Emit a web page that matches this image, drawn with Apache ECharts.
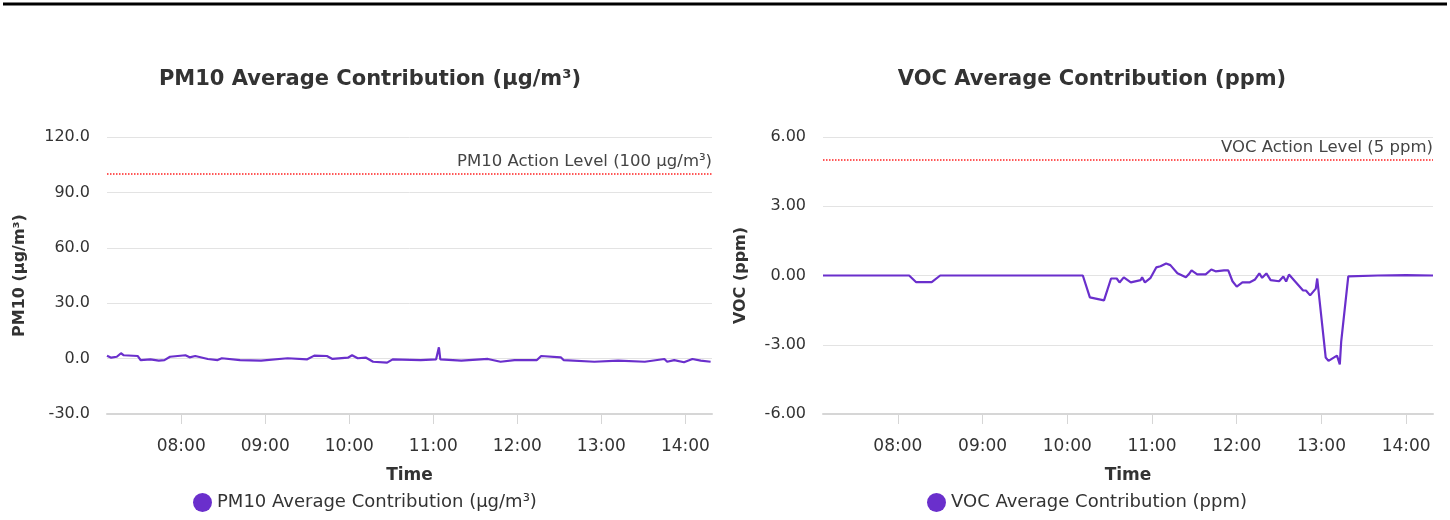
<!DOCTYPE html>
<html>
<head>
<meta charset="utf-8">
<script src="https://cdn.jsdelivr.net/npm/echarts@6/dist/echarts.min.js"></script>
<style>
html,body{margin:0;padding:0;background:#fff;}
#c{width:1450px;height:520px;}
</style>
</head>
<body>
<div id="c"></div>
<script>
const DAY = '2024-01-01 ';
const startTime = '07:07';
const endTime = '14:19';

const pmTimes = ['07:07','07:10','07:14','07:17','07:19','07:29','07:31','07:38','07:44','07:48','07:52','08:03','08:06','08:10','08:19','08:26','08:29','08:42','08:57','09:16','09:30','09:35','09:44','09:48','09:59','10:02','10:06','10:12','10:17','10:27','10:31','10:51','11:02','11:04','11:05','11:20','11:39','11:48','11:58','12:14','12:17','12:31','12:33','12:55','13:12','13:31','13:45','13:47','13:52','13:59','14:05','14:11','14:18'];
const pmValues = [1.6,0.5,1.0,2.9,1.8,1.4,-0.8,-0.4,-1.1,-0.8,1.0,1.8,0.7,1.4,-0.2,-0.8,0.2,-0.8,-1.1,0.2,-0.4,1.6,1.4,-0.2,0.5,1.8,0.2,0.5,-1.7,-2.2,-0.4,-0.8,-0.4,6.1,-0.4,-1.1,-0.2,-1.7,-0.8,-0.8,1.4,0.7,-0.8,-1.7,-1.1,-1.7,-0.2,-1.7,-0.8,-2.0,-0.2,-1.1,-1.7];

const vocTimes = ['07:07','08:08','08:13','08:24','08:30','10:11','10:16','10:26','10:31','10:35','10:37','10:40','10:45','10:52','10:53','10:55','10:59','11:03','11:06','11:10','11:13','11:18','11:24','11:26','11:28','11:32','11:38','11:42','11:45','11:51','11:54','11:57','12:00','12:04','12:09','12:13','12:16','12:18','12:21','12:24','12:30','12:33','12:35','12:37','12:42','12:47','12:49','12:52','12:56','12:57','13:03','13:05','13:11','13:13','13:14','13:19','13:40','14:00','14:19'];
const vocValues = [0.0,0.0,-0.29,-0.29,0.0,0.0,-0.95,-1.08,-0.13,-0.13,-0.3,-0.08,-0.3,-0.2,-0.08,-0.3,-0.1,0.35,0.4,0.52,0.45,0.1,-0.08,0.05,0.22,0.05,0.05,0.26,0.18,0.22,0.22,-0.25,-0.48,-0.3,-0.3,-0.17,0.09,-0.1,0.09,-0.2,-0.25,-0.04,-0.26,0.04,-0.3,-0.65,-0.65,-0.86,-0.57,-0.13,-3.55,-3.7,-3.47,-3.85,-2.85,-0.04,0.0,0.02,0.0];

const pmTicks = {min: -30, max: 120, interval: 30, digits: 1};
const vocTicks = {min: -6, max: 6, interval: 3, digits: 2};

const pmTitle = 'PM10 Average Contribution (µg/m³)';
const vocTitle = 'VOC Average Contribution (ppm)';
const pmAxisName = 'PM10 (µg/m³)';
const vocAxisName = 'VOC (ppm)';
const pmAction = 100, pmActionLabel = 'PM10 Action Level (100 µg/m³)';
const vocAction = 5, vocActionLabel = 'VOC Action Level (5 ppm)';

const FONT = 'DejaVu Sans';
const LINE_COLOR = '#6a2fcc';
const ts = t => new Date(DAY + t + ':00').getTime();
const toData = (times, vals) => times.map((t, i) => [ts(t), vals[i]]);

function xAxis(gi) {
  return {
    type: 'time', gridIndex: gi,
    min: ts(startTime), max: ts(endTime),
    minInterval: 3600000, maxInterval: 3600000,
    name: 'Time', nameLocation: 'middle', nameGap: 53,
    nameTextStyle: {fontFamily: FONT, fontWeight: 'bold', fontSize: 17, color: '#333'},
    axisLine: {show: true, onZero: false, lineStyle: {color: '#d6d6d6', width: 2}},
    axisTick: {show: true, length: 10, lineStyle: {color: '#d6d6d6'}},
    axisLabel: {formatter: '{HH}:{mm}', fontFamily: FONT, fontSize: 17, color: '#333', margin: 24, showMinLabel: false, showMaxLabel: false},
    splitLine: {show: false}
  };
}
function yAxis(gi, tk, name, gap) {
  return {
    type: 'value', gridIndex: gi, min: tk.min, max: tk.max, interval: tk.interval,
    name: name, nameLocation: 'middle', nameGap: gap, nameRotate: 90,
    nameTextStyle: {fontFamily: FONT, fontWeight: 'bold', fontSize: 16, color: '#333'},
    axisLine: {show: false}, axisTick: {show: false},
    axisLabel: {formatter: v => v.toFixed(tk.digits), fontFamily: FONT, fontSize: 16, color: '#333', margin: 17},
    splitLine: {show: true, lineStyle: {color: '#e3e3e3', width: 1}}
  };
}
function series(gi, name, data, action, actionLabel) {
  const ls = {color: '#ff2020', type: 'dotted', width: 1.5};
  return {
    type: 'line', name: name, xAxisIndex: gi, yAxisIndex: gi, data: data,
    showSymbol: false, symbol: 'circle', lineStyle: {color: LINE_COLOR, width: 2.2}, itemStyle: {color: LINE_COLOR},
    markLine: {
      silent: true, symbol: 'none', animation: false,
      lineStyle: ls,
      label: {show: true, position: 'insideEndTop', formatter: actionLabel, fontFamily: FONT, fontSize: 16.5, color: '#444', distance: [0, 4]},
      data: [{yAxis: action, lineStyle: ls}]
    }
  };
}

const chart = echarts.init(document.getElementById('c'));
chart.setOption({
  animation: false,
  textStyle: {fontFamily: FONT},
  graphic: [{type: 'line', shape: {x1: 3, y1: 4, x2: 1447, y2: 4}, style: {stroke: '#000', lineWidth: 3}}],
  title: [
    {text: pmTitle, left: 365, top: 64, textAlign: 'center', textStyle: {fontFamily: FONT, fontWeight: 'bold', fontSize: 21, color: '#333'}},
    {text: vocTitle, left: 1087, top: 64, textAlign: 'center', textStyle: {fontFamily: FONT, fontWeight: 'bold', fontSize: 21, color: '#333'}}
  ],
  legend: [
    {data: [pmTitle], left: 188, top: 488, icon: 'circle', itemWidth: 19, itemHeight: 19, itemGap: 6, textStyle: {fontFamily: FONT, fontSize: 18, color: '#333'}},
    {data: [vocTitle], left: 922, top: 488, icon: 'circle', itemWidth: 19, itemHeight: 19, itemGap: 6, textStyle: {fontFamily: FONT, fontSize: 18, color: '#333'}}
  ],
  grid: [
    {left: 107, right: 738, top: 137, bottom: 106},
    {left: 823, right: 17, top: 137, bottom: 106}
  ],
  xAxis: [xAxis(0), xAxis(1)],
  yAxis: [yAxis(0, pmTicks, pmAxisName, 79), yAxis(1, vocTicks, vocAxisName, 74)],
  series: [
    series(0, pmTitle, toData(pmTimes, pmValues), pmAction, pmActionLabel),
    series(1, vocTitle, toData(vocTimes, vocValues), vocAction, vocActionLabel)
  ]
});
</script>
</body>
</html>
